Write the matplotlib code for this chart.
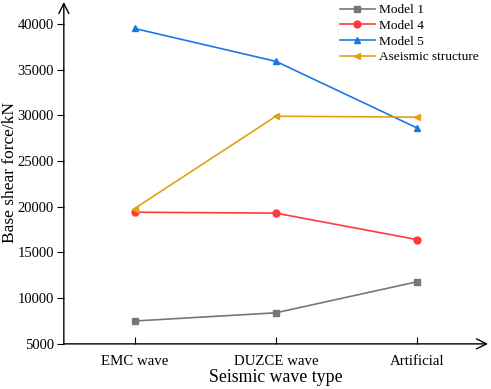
import matplotlib
matplotlib.use("Agg")
import matplotlib.pyplot as plt

plt.rcParams["font.family"] = "Liberation Serif"

waves = ["EMC wave", "DUZCE wave", "Artificial"]
model1 = [7500, 8400, 11800]
model4 = [19400, 19300, 16400]
model5 = [39500, 35900, 28600]
aseismic = [19800, 29900, 29800]

fig = plt.figure(figsize=(4.91, 3.89), dpi=100)
ax = fig.add_axes([0.130, 0.116, 0.864, 0.879])

x = range(len(waves))
ax.plot(x, model1, color="#777777", marker="s", ms=5, lw=1.2, label="Model 1")
ax.plot(x, model4, color="#ff3b3b", marker="o", ms=5, lw=1.2, label="Model 4")
ax.plot(x, model5, color="#1a78e6", marker="^", ms=5, lw=1.2, label="Model 5")
ax.plot(x, aseismic, color="#e6a010", marker="<", ms=5, lw=1.2, label="Aseismic structure")

ax.set_xlim(-0.5, 2.5)
ax.set_ylim(5000, 42400)
ax.set_xticks(list(x))
ax.set_xticklabels(waves)
ax.set_yticks(range(5000, 40001, 5000))

for s in ax.spines.values():
    s.set_visible(False)
ax.annotate("", xy=(1.0, 0), xytext=(0, 0), xycoords="axes fraction",
            arrowprops=dict(arrowstyle="->", color="black", lw=1.0,
                            shrinkA=0, shrinkB=0, mutation_scale=18))
ax.annotate("", xy=(0, 1.0), xytext=(0, 0), xycoords="axes fraction",
            arrowprops=dict(arrowstyle="->", color="black", lw=1.0,
                            shrinkA=0, shrinkB=0, mutation_scale=18))

ax.tick_params(axis="x", direction="in", length=5, labelsize=10.7, pad=8)
ax.tick_params(axis="y", direction="out", length=5, labelsize=10.5, pad=2)
ax.set_xlabel("Seismic wave type", fontsize=12.8, labelpad=1)
ax.set_ylabel("Base shear force/kN", fontsize=12.5, labelpad=0)

ax.legend(loc="upper right", frameon=False, fontsize=9.6, handlelength=2.6,
          handletextpad=0.3, labelspacing=0.25, borderaxespad=0.0,
          bbox_to_anchor=(0.99, 1.01))

fig.savefig("out.png", dpi=100)
